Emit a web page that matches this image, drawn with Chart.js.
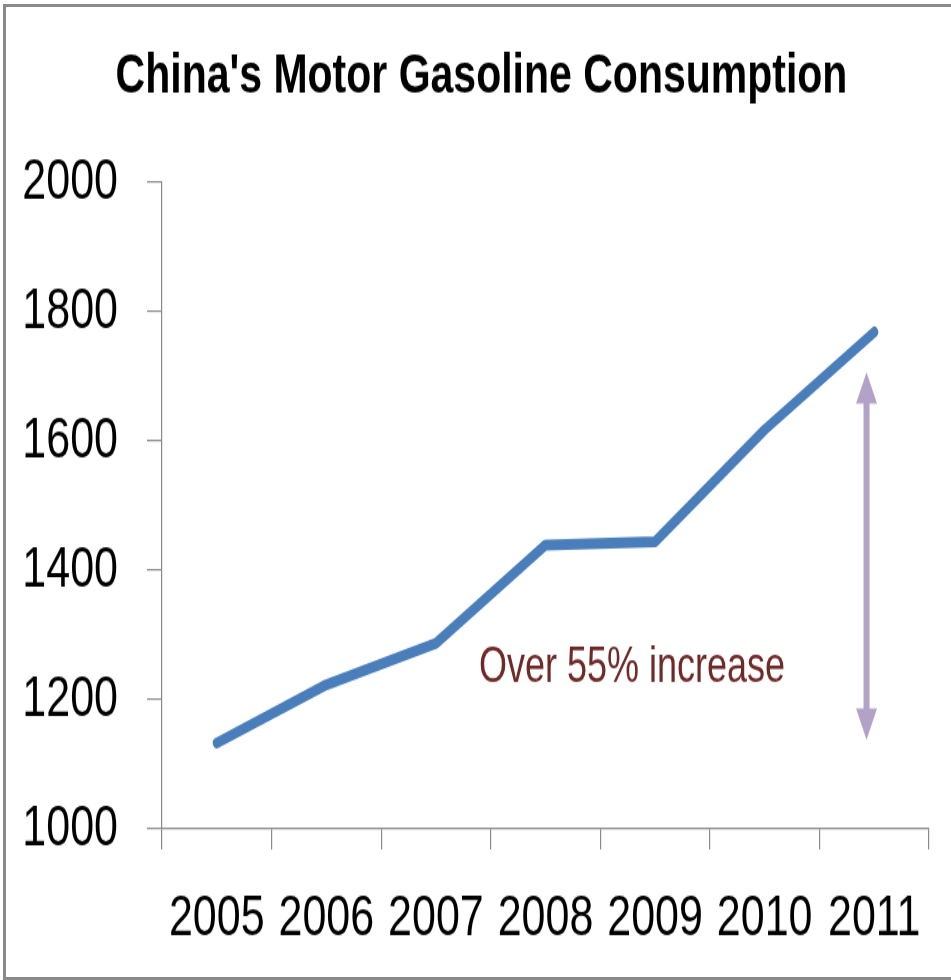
<!DOCTYPE html>
<html>
<head>
<meta charset="utf-8">
<script src="https://cdn.jsdelivr.net/npm/chart.js@4.4.1/dist/chart.umd.min.js"></script>
<style>
  html, body { margin: 0; padding: 0; background: #ffffff; }
  #wrap { position: relative; width: 951px; height: 980px; overflow: hidden; background: #ffffff; }
  #frame { position: absolute; left: 3px; top: 4px; width: 1000px; height: 970px;
           border-left: 3px solid #8a8a8a; border-top: 3px solid #8a8a8a; border-bottom: 3px solid #8a8a8a; }
  #c { position: absolute; left: 0; top: 0; }
</style>
</head>
<body>
<div id="wrap">
  <div id="frame"></div>
  <canvas id="c" width="951" height="720" style="width:951px;height:980px;"></canvas>
</div>
<script>
// ---- data ----
const titleText = "China's Motor Gasoline Consumption";
const years = ['2005', '2006', '2007', '2008', '2009', '2010', '2011'];
const consumption = [1133, 1223, 1287, 1439, 1444, 1617, 1768];
const yTicksMin = 1000;
const yTicksMax = 2000;
const yTicksStep = 200;
const noteText = 'Over 55% increase';
const noteAt = [3.79, 1248];          // [category index, value]
const arrowRange = [1138, 1706];      // value span the arrow covers
const arrowAtIndex = 5.93;            // category index of the arrow

const FONT = "'Liberation Sans', Arial, sans-serif";

const titleShift = {
  id: 'titleShift',
  afterLayout(chart) {
    if (chart.titleBlock) {
      chart.titleBlock.left += 9;
      chart.titleBlock.right += 9;
    }
  }
};

const annotationPlugin = {
  id: 'annot',
  afterDatasetsDraw(chart) {
    const ctx = chart.ctx;
    const xs = chart.scales.x, ys = chart.scales.y;
    ctx.save();
    // text
    ctx.fillStyle = '#6e2a27';
    ctx.font = '36px ' + FONT;
    ctx.textAlign = 'center';
    ctx.textBaseline = 'middle';
    ctx.fillText(noteText, xs.getPixelForValue(noteAt[0]), ys.getPixelForValue(noteAt[1]));
    // double-headed arrow
    const ax = xs.getPixelForValue(arrowAtIndex);
    const yTop = ys.getPixelForValue(arrowRange[1]);
    const yBot = ys.getPixelForValue(arrowRange[0]);
    const headL = 23, headW = 10.5, shaft = 6;
    ctx.fillStyle = '#b3a2c7';
    ctx.fillRect(ax - shaft / 2, yTop + headL - 1, shaft, (yBot - yTop) - 2 * headL + 2);
    ctx.beginPath();
    ctx.moveTo(ax, yTop);
    ctx.lineTo(ax + headW, yTop + headL);
    ctx.lineTo(ax - headW, yTop + headL);
    ctx.closePath();
    ctx.fill();
    ctx.beginPath();
    ctx.moveTo(ax, yBot);
    ctx.lineTo(ax + headW, yBot - headL);
    ctx.lineTo(ax - headW, yBot - headL);
    ctx.closePath();
    ctx.fill();
    ctx.restore();
  }
};

new Chart(document.getElementById('c'), {
  type: 'line',
  data: {
    labels: years,
    datasets: [{
      data: consumption,
      borderColor: '#4a7ebb',
      backgroundColor: '#4a7ebb',
      borderWidth: 8,
      borderCapStyle: 'round',
      borderJoinStyle: 'round',
      pointRadius: 0,
      pointHoverRadius: 0,
      tension: 0,
      fill: false
    }]
  },
  options: {
    responsive: false,
    devicePixelRatio: 1,
    animation: false,
    events: [],
    layout: { padding: { left: 16, right: 22, top: 0, bottom: 0 } },
    plugins: {
      legend: { display: false },
      tooltip: { enabled: false },
      title: {
        display: true,
        text: titleText,
        color: '#000000',
        font: { family: FONT, size: 41, weight: 'bold', lineHeight: 1.2 },
        padding: { top: 32, bottom: 52.5 }
      }
    },
    scales: {
      x: {
        offset: true,
        grid: {
          offset: true,
          display: true,
          drawOnChartArea: false,
          drawTicks: true,
          tickLength: 15,
          color: '#8a8a8a',
          lineWidth: 1.2
        },
        border: { display: true, color: '#8a8a8a', width: 1.2 },
        ticks: {
          color: '#000000',
          font: { family: FONT, size: 43 },
          padding: 25,
          maxRotation: 0,
          autoSkip: false
        },
        afterFit(scale) { scale.height = 110.9; }
      },
      y: {
        min: yTicksMin,
        max: yTicksMax,
        grid: {
          display: true,
          drawOnChartArea: false,
          drawTicks: true,
          tickLength: 15,
          color: '#8a8a8a',
          lineWidth: 1.2
        },
        border: { display: true, color: '#8a8a8a', width: 1.2 },
        ticks: {
          stepSize: yTicksStep,
          color: '#000000',
          font: { family: FONT, size: 43 },
          padding: 29,
          callback: (v) => String(v)
        },
        afterFit(scale) { scale.width = 146; }
      }
    }
  },
  plugins: [titleShift, annotationPlugin]
});
</script>
</body>
</html>
